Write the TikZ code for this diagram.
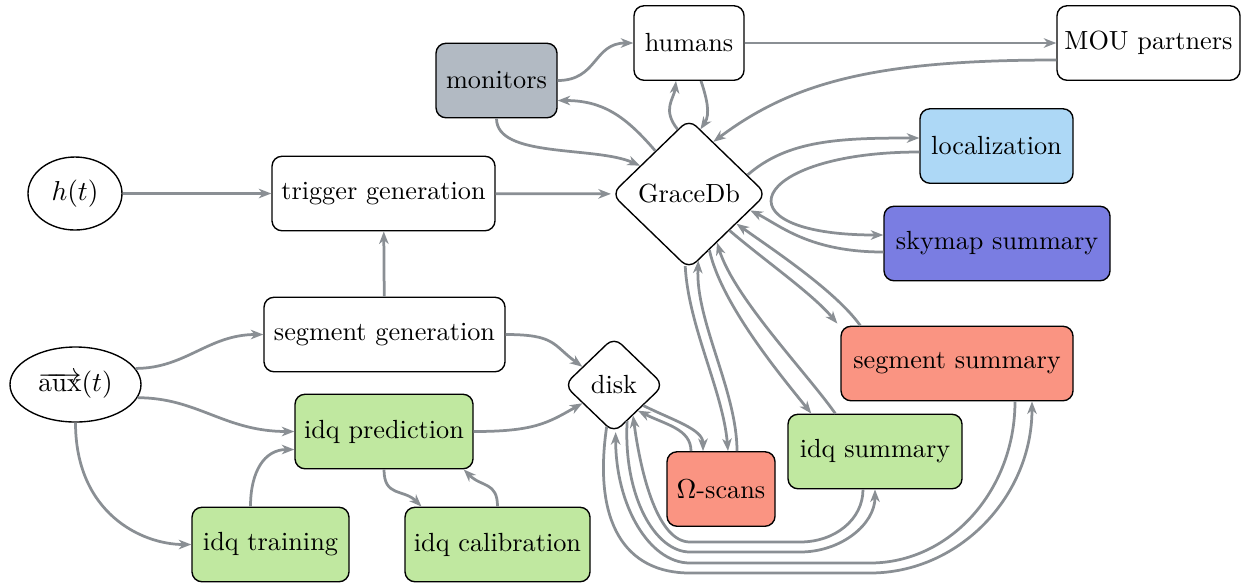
\documentclass[tikz,border=0pt]{standalone}
\usetikzlibrary{shapes.geometric,arrows.meta,calc}
\definecolor{arrgray}{RGB}{138,143,148}
\definecolor{mongray}{RGB}{178,186,195}
\definecolor{locblue}{RGB}{173,216,246}
\definecolor{skyblu}{RGB}{122,125,226}
\definecolor{salm}{RGB}{250,148,130}
\definecolor{idqgreen}{RGB}{192,232,160}
\tikzset{
  box/.style={draw=black, line width=0.55pt, rounded corners=4pt, inner sep=0pt, minimum height=29.8pt},
  oval/.style={draw=black, shape=ellipse, line width=0.55pt, inner sep=0pt},
  dia/.style={draw=black, shape=diamond, line width=0.55pt, rounded corners=4pt, inner sep=0pt},
  arr/.style={draw=arrgray, line width=1.1pt, -{Stealth[length=5pt,width=3.8pt,inset=1.5pt]}},
}
\begin{document}
\begin{tikzpicture}[x=0.4pt,y=-0.4pt,font=\fontsize{10.5}{12.6}\selectfont]
\useasboundingbox (0,0) rectangle (1254,583);
% nodes
\node[oval, minimum width=37.6pt, minimum height=29.2pt] (ht) at (75,193.5) {$h(t)$};
\node[box, minimum width=89.2pt] (trig) at (383.5,193.5) {trigger generation};
\node[dia, minimum width=62pt, minimum height=60pt] (grace) at (689,194) {GraceDb};
\node[box, fill=mongray, minimum width=48.4pt] (mon) at (496.5,80.5) {monitors};
\node[box, minimum width=44pt] (hum) at (689,43) {humans};
\node[box, minimum width=73.2pt] (mou) at (1148.5,43) {MOU partners};
\node[box, fill=locblue, minimum width=61.2pt] (loc) at (996.5,146) {localization};
\node[box, fill=skyblu, minimum width=90.4pt] (sky) at (997,243.5) {skymap summary};
\node[box, fill=salm, minimum width=92.8pt] (segsum) at (957,363.5) {segment summary};
\node[box, fill=idqgreen, minimum width=69.6pt] (idqsum) at (875,451.5) {idq summary};
\node[box, fill=salm, minimum width=43.2pt] (omega) at (721,489) {$\Omega$-scans};
\node[dia, minimum width=40pt, minimum height=38.4pt] (disk) at (614,385) {disk};
\node[box, minimum width=96.4pt] (seggen) at (384.5,334.5) {segment generation};
\node[oval, minimum width=52.4pt, minimum height=30pt] (aux) at (75.5,384.5) {$\overrightarrow{\mathrm{aux}}(t)$};
\node[box, fill=idqgreen, minimum width=71.2pt] (pred) at (384,431.5) {idq prediction};
\node[box, fill=idqgreen, minimum width=62.8pt] (train) at (270.5,544.5) {idq training};
\node[box, fill=idqgreen, minimum width=74pt] (calib) at (497.5,544.5) {idq calibration};
% waypoints for the long loops below the disk
\coordinate (b1l) at (690,573); \coordinate (b1r) at (870,573);
\coordinate (b2l) at (690,563); \coordinate (b2r) at (870,563);
\coordinate (b3l) at (690,552); \coordinate (b3r) at (800,552);
\coordinate (b4l) at (690,542); \coordinate (b4r) at (800,542);
% left part
\draw[arr] (ht) -- (trig);
\draw[arr] (trig) -- (grace);
\draw[arr] (seggen) -- (trig);
\draw[arr] (aux.15) .. controls +(50,0) and +(-55,0) .. (seggen.west);
\draw[arr] (aux.-12) .. controls +(60,0) and +(-70,0) .. (pred.west);
\draw[arr] (aux.south) .. controls +(0,90) and +(-50,0) .. (train.west);
\draw[arr] ($(train.north)+(-20,0)$) .. controls +(0,-35) and +(-30,0) .. ($(pred.west)+(0,18)$);
\draw[arr] (pred.south) .. controls +(0,28) and +(-18,-18) .. ($(calib.north)+(-76,0)$);
\draw[arr] (calib.north) .. controls +(0,-25) and +(18,18) .. ($(pred.south east)+(-10,0)$);
\draw[arr] (pred.east) .. controls +(60,0) and +(-35,20) .. (disk.-150);
\draw[arr] (seggen.east) .. controls +(50,0) and +(-30,-22) .. (disk.150);
% top part
\draw[arr] (mon.east) .. controls +(40,0) and +(-40,0) .. (hum.west);
\draw[arr] (hum) -- (mou);
\draw[arr] ($(mou.west)+(0,17)$) .. controls +(-180,0) and +(80,-60) .. (grace.65);
\draw[arr] (grace.128) .. controls +(-30,-35) and +(45,0) .. ($(mon.east)+(0,20)$);
\draw[arr] (mon.south) .. controls +(0,40) and +(-45,-20) .. (grace.150);
\draw[arr] (grace.100) .. controls +(-16,-20) and +(-2,18) .. ($(hum.south)+(-13,0)$);
\draw[arr] ($(hum.south)+(12,0)$) .. controls +(6,18) and +(10,-15) .. (grace.80);
% right part
\draw[arr] (grace.18) .. controls +(40,-35) and +(-80,0) .. ($(loc.west)+(0,-8)$);
\draw[arr] ($(loc.west)+(0,6)$) .. controls +(-170,0) and +(-170,0) .. ($(sky.west)+(0,-8.5)$);
\draw[arr] ($(sky.west)+(0,8.5)$) .. controls +(-74,0) and +(30,15) .. (grace.-15);
\draw[arr] (grace.-42) .. controls +(35,30) and +(-25,-30) .. ($(segsum.north west)+(-3,-2)$);
\draw[arr] ($(segsum.north west)+(20,0)$) .. controls +(-25,-35) and +(35,25) .. (grace.-32);
\draw[arr] (grace.-70) .. controls +(12,55) and +(-28,-35) .. ($(idqsum.north west)+(24,0)$);
\draw[arr] ($(idqsum.north west)+(48,0)$) .. controls +(-28,-40) and +(17,55) .. (grace.-60);
\draw[arr] (grace.-93) .. controls +(3,60) and +(-5,-60) .. ($(omega.north)+(7,0)$);
\draw[arr] ($(omega.north)+(16,0)$) .. controls +(0,-60) and +(-3,60) .. (grace.-82);
% disk loops
\draw[arr] (disk.-35) .. controls +(30,15) and +(0,-22) .. ($(omega.north)+(-18,0)$);
\draw[arr] ($(omega.north)+(-30,0)$) .. controls +(0,-22) and +(28,14) .. (disk.-47);
\draw[arr] (disk.-100) .. controls +(-14,96) and +(-65,0) .. (b1l) -- (b1r) .. controls +(89,0) and +(0,95) .. ($(segsum.south)+(75,0)$);
\draw[arr] ($(segsum.south)+(58,0)$) .. controls +(0,89) and +(80,0) .. (b2r) -- (b2l) .. controls +(-41,0) and +(0,73) .. (disk.-88);
\draw[arr] (disk.-70) .. controls +(-4,75) and +(-35,0) .. (b3l) -- (b3r) .. controls +(41,0) and +(0,35) .. (idqsum.south);
\draw[arr] ($(idqsum.south)+(-12,0)$) .. controls +(0,30) and +(35,0) .. (b4r) -- (b4l) .. controls +(-32,0) and +(8,60) .. (disk.-58);
\end{tikzpicture}
\end{document}
